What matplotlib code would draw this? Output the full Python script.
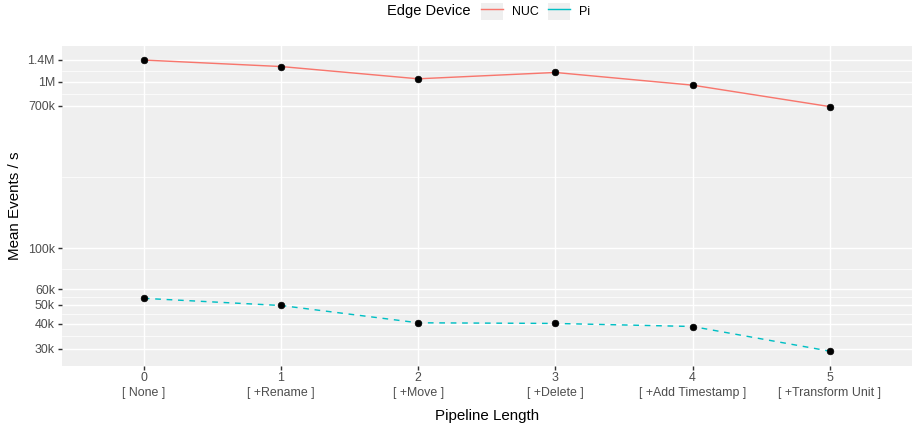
import numpy as np
import matplotlib
matplotlib.use("Agg")
import matplotlib.pyplot as plt
from matplotlib.lines import Line2D
from matplotlib.patches import Rectangle
from matplotlib.legend_handler import HandlerTuple

plt.rcParams['font.family'] = ['Liberation Sans', 'DejaVu Sans']

# ---- data ----
pipeline_length = [0, 1, 2, 3, 4, 5]
pipeline_steps = ["[ None ]", "[ +Rename ]", "[ +Move ]", "[ +Delete ]",
                  "[ +Add Timestamp ]", "[ +Transform Unit ]"]
devices = ["NUC", "Pi"]
nuc_events = [1395000, 1262000, 1046000, 1152000, 950000, 690000]
pi_events = [53900, 49500, 40400, 40100, 38700, 29200]
y_breaks = [30000, 40000, 50000, 60000, 100000, 700000, 1000000, 1400000]
y_break_labels = ["30k", "40k", "50k", "60k", "100k", "700k", "1M", "1.4M"]

colors = {"NUC": "#F8766D", "Pi": "#00BFC4"}
panel_bg = "#EFEFEF"
W, H = 912, 426
DPI = 96


def fwd(y):
    y = np.asarray(y, dtype=float)
    with np.errstate(all="ignore"):
        out = np.log(np.log10(np.where(y > 1.0001, y, 1.0001)))
    return out


def inv(t):
    t = np.asarray(t, dtype=float)
    with np.errstate(all="ignore"):
        return 10 ** np.exp(np.clip(t, -50, 3.5))


fig = plt.figure(figsize=(W / DPI, H / DPI), dpi=DPI)
left, right, top, bottom = 61.5, 912, 45.5, 365.7
ax = fig.add_axes([left / W, 1 - bottom / H, (right - left) / W, (bottom - top) / H])
ax.set_facecolor(panel_bg)
ax.set_yscale("function", functions=(fwd, inv))

x = np.array(pipeline_length)
series = {"NUC": nuc_events, "Pi": pi_events}
lw = 1.07
ax.plot(x, nuc_events, color=colors["NUC"], lw=lw, zorder=2)
ax.plot(x, pi_events, color=colors["Pi"], lw=lw, dashes=(4, 4), zorder=2)
for d in devices:
    ax.plot(x, series[d], "o", color="black", ms=5, mec="black", mew=0.5, zorder=3)

# limits with 5% expansion in transformed space
allv = np.concatenate([nuc_events, pi_events])
tv = fwd(allv)
span = tv.max() - tv.min()
ax.set_ylim(inv(tv.min() - 0.05 * span), inv(tv.max() + 0.05 * span))
ax.set_xlim(-0.6, 5.6)

ax.set_yticks(y_breaks, y_break_labels)
tb = fwd(y_breaks)
ax.set_yticks(inv((tb[:-1] + tb[1:]) / 2), minor=True)
ax.set_xticks(x, [f"{n}\n{s}" for n, s in zip(pipeline_length, pipeline_steps)])
ax.set_xticks([], minor=True)

ax.grid(which="major", color="white", lw=1.07)
ax.grid(which="minor", axis="y", color="white", lw=0.53)
ax.set_axisbelow(True)
for sp in ax.spines.values():
    sp.set_visible(False)
ax.tick_params(which="major", length=2.75, width=1.07, color="#333333",
               labelcolor="#4D4D4D", labelsize=9.3, pad=2.2)
ax.tick_params(which="minor", length=0)
for lbl in ax.get_xticklabels():
    lbl.set_linespacing(1.3)

ax.set_xlabel("Pipeline Length", fontsize=11.3, color="black")
ax.xaxis.set_label_coords(0.5, (bottom - 416) / (bottom - top))
ax.xaxis.label.set_va("center")
ax.set_ylabel("Mean Events / s", fontsize=11.3, color="black")
ax.yaxis.set_label_coords((15 - left) / (right - left), 0.5)
ax.yaxis.label.set_va("center")

# legend
handles = []
for d in devices:
    bg = Rectangle((0, 0), 1, 1, facecolor=panel_bg, edgecolor="none")
    ln = Line2D([], [], color=colors[d], lw=lw)
    handles.append((bg, ln))
fig.legend(handles, devices, handler_map={tuple: HandlerTuple(ndivide=1)},
           loc="center left", bbox_to_anchor=(481 / W, 1 - 11.5 / H), ncol=2,
           frameon=False, borderpad=0, borderaxespad=0, handlelength=1.8,
           handleheight=1.8, handletextpad=0.7, columnspacing=0.75,
           fontsize=9.3)
fig.text(470.7 / W, 1 - 11.5 / H, "Edge Device", fontsize=11, ha="right", va="center")

fig.savefig("out.png", dpi=DPI)
